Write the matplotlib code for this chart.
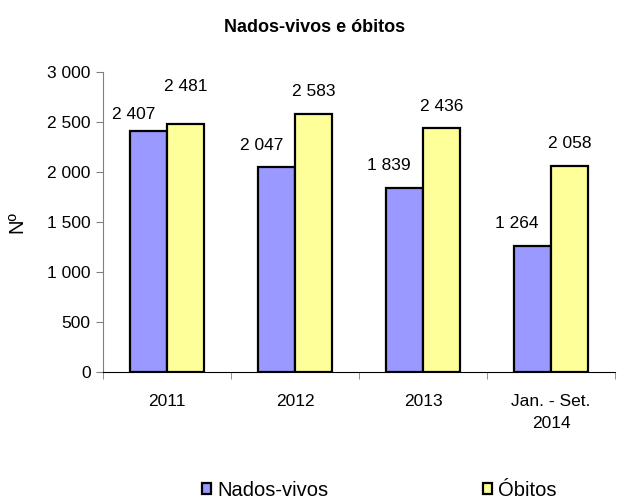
import matplotlib.pyplot as plt
import numpy as np

plt.rcParams['font.family'] = ['Liberation Sans', 'DejaVu Sans']

# Data
periods = ["2011", "2012", "2013", "Jan. - Set.\n2014"]
nados_vivos = [2407, 2047, 1839, 1264]
obitos = [2481, 2583, 2436, 2058]
yticks = [0, 500, 1000, 1500, 2000, 2500, 3000]


def fmt(v):
    # thousands separated by a space
    return f"{v:,}".replace(",", " ")


fig = plt.figure(figsize=(6.29, 5), dpi=100)
ax = fig.add_axes([0.1638, 0.256, 0.8140, 0.600])

x = np.arange(len(periods))
w = 0.29
b1 = ax.bar(x - w / 2, nados_vivos, width=w, color="#9999FF", edgecolor="black",
            linewidth=1.6, label="Nados-vivos")
b2 = ax.bar(x + w / 2, obitos, width=w, color="#FFFF99", edgecolor="black",
            linewidth=1.6, label="Óbitos")

# value labels (2011 ones sit a bit differently in the original)
dy1 = [12, 16, 16, 16]
dy2 = [27, 16, 16, 16]
for i, r in enumerate(b1):
    ax.annotate(fmt(nados_vivos[i]), (r.get_x() + r.get_width() / 2, r.get_height()),
                xytext=(-11, dy1[i]), textcoords="offset points",
                ha="center", va="center", fontsize=12.5)
for i, r in enumerate(b2):
    ax.annotate(fmt(obitos[i]), (r.get_x() + r.get_width() / 2, r.get_height()),
                xytext=(0, dy2[i]), textcoords="offset points",
                ha="center", va="center", fontsize=12.5)

ax.set_xlim(-0.5, len(periods) - 0.5)
ax.set_ylim(0, 3000)
ax.set_yticks(yticks)
ax.set_yticklabels([fmt(v) for v in yticks], fontsize=12.5)
ax.set_xticks(x)
ax.set_xticklabels(periods, fontsize=12.5, linespacing=1.55)
ax.set_xticks(np.arange(len(periods) + 1) - 0.5, minor=True)
ax.tick_params(axis="x", which="major", length=0, pad=16)
ax.tick_params(axis="x", which="minor", length=5, color="#808080")
ax.tick_params(axis="y", length=5, color="#808080", pad=4)

for s in ["top", "right"]:
    ax.spines[s].set_visible(False)
ax.spines["left"].set_color("#808080")
ax.spines["bottom"].set_color("black")

ax.set_ylabel("Nº", fontsize=14.5, labelpad=15)
fig.suptitle("Nados-vivos e óbitos", fontsize=13, fontweight="bold", y=0.963)

fig.legend(handles=[b1, b2], loc="center", bbox_to_anchor=(0.603, 0.02), ncol=2,
           frameon=False, fontsize=14.5, handlelength=0.45, handleheight=0.45,
           handletextpad=0.3, columnspacing=7.7, borderaxespad=0)

fig.savefig("out.png", dpi=100)
